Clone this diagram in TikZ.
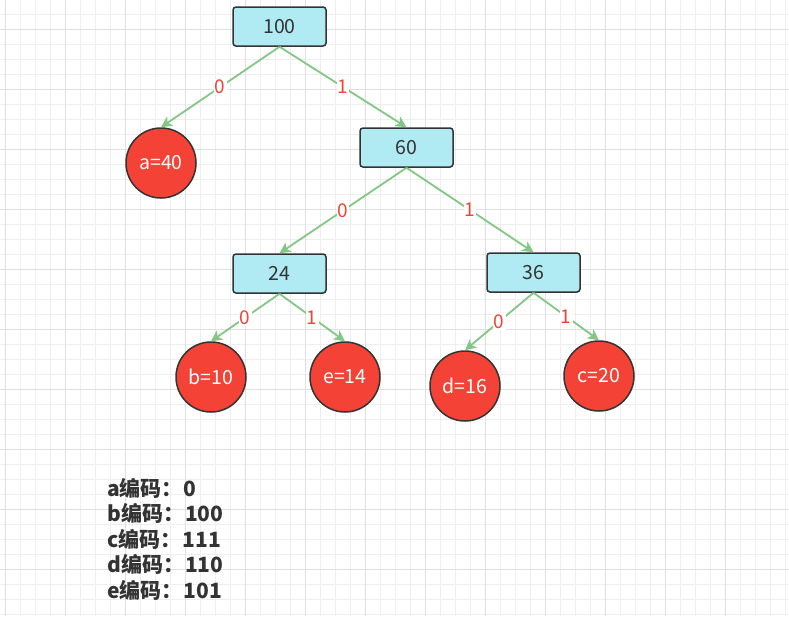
\documentclass[tikz,border=0pt]{standalone}
\usepackage{fontspec}
\setmainfont{Noto Sans CJK SC}
\usetikzlibrary{arrows.meta}
\definecolor{boxfill}{RGB}{176,234,242}
\definecolor{dark}{RGB}{51,51,51}
\definecolor{leafred}{RGB}{244,67,54}
\definecolor{edgegreen}{RGB}{130,199,132}
\definecolor{labred}{RGB}{244,67,54}
\definecolor{gridlight}{RGB}{238,238,238}
\definecolor{griddark}{RGB}{224,224,224}
\tikzset{
  x=1pt, y=-1pt,
  sumbox/.style={draw=dark, line width=1.5pt, fill=boxfill, rounded corners=3pt,
    minimum width=93pt, minimum height=39pt, inner sep=0pt, text=dark,
    font=\fontsize{19.5}{21}\selectfont},
  leaf/.style={circle, draw=dark, line width=1.5pt, fill=leafred, minimum size=70pt,
    inner sep=0pt, text=white, font=\fontsize{19.5}{21}\selectfont},
  edge/.style={draw=edgegreen, line width=1.8pt, -{Stealth[length=11pt,width=11pt,inset=3pt]}},
  bitlab/.style={fill=white, text=labred, inner sep=1pt, font=\fontsize{19}{20}\selectfont},
  codeline/.style={anchor=west, text=dark, font=\fontsize{21}{23}\selectfont\bfseries, inner sep=0pt}
}
\begin{document}
\begin{tikzpicture}
\fill[white] (0,0) rectangle (789,616);
\useasboundingbox (0,0) rectangle (789,616);
% grid
\foreach \i in {0,...,52} {
  \pgfmathsetmacro{\xx}{5+15*\i}
  \draw[gridlight, line width=1pt] (\xx,0) -- (\xx,616);
}
\foreach \i in {0,...,40} {
  \pgfmathsetmacro{\yy}{14+15*\i}
  \draw[gridlight, line width=1pt] (0,\yy) -- (789,\yy);
}
\foreach \i in {0,...,12} {
  \pgfmathsetmacro{\xx}{5+60*\i}
  \draw[griddark, line width=1pt] (\xx,0) -- (\xx,616);
}
\foreach \i in {0,...,10} {
  \pgfmathsetmacro{\yy}{29+60*\i}
  \draw[griddark, line width=1pt] (0,\yy) -- (789,\yy);
}
% nodes
\node[sumbox] (n100) at (279.5,26.5) {100};
\node[sumbox] (n60) at (406.5,147.5) {60};
\node[sumbox] (n24) at (279.5,273.5) {24};
\node[sumbox] (n36) at (533.5,272.5) {36};
\node[leaf] (a) at (161,163) {a=40};
\node[leaf] (b) at (211,377) {b=10};
\node[leaf] (e) at (345,377) {e=14};
\node[leaf] (d) at (465,386) {d=16};
\node[leaf] (c) at (599,376) {c=20};
% edges
\draw[edge] (n100.south) -- node[bitlab] {0} (a.north);
\draw[edge] (n100.south) -- node[bitlab] {1} (n60.north);
\draw[edge] (n60.south) -- node[bitlab] {0} (n24.north);
\draw[edge] (n60.south) -- node[bitlab] {1} (n36.north);
\draw[edge] (n24.south) -- node[bitlab] {0} (b.north);
\draw[edge] (n24.south) -- node[bitlab] {1} (e.north);
\draw[edge] (n36.south) -- node[bitlab] {0} (d.north);
\draw[edge] (n36.south) -- node[bitlab] {1} (c.north);
% codes
\node[codeline] (ca) at (107,488) {a编码：\hspace{1pt}0};
\node[codeline] (cb) at (107,513) {b编码：\hspace{1pt}100};
\node[codeline] (cc) at (107,539) {c编码：\hspace{1pt}111};
\node[codeline] (cd) at (107,564) {d编码：\hspace{1pt}110};
\node[codeline] (ce) at (107,590) {e编码：\hspace{1pt}101};
\end{tikzpicture}
\end{document}
